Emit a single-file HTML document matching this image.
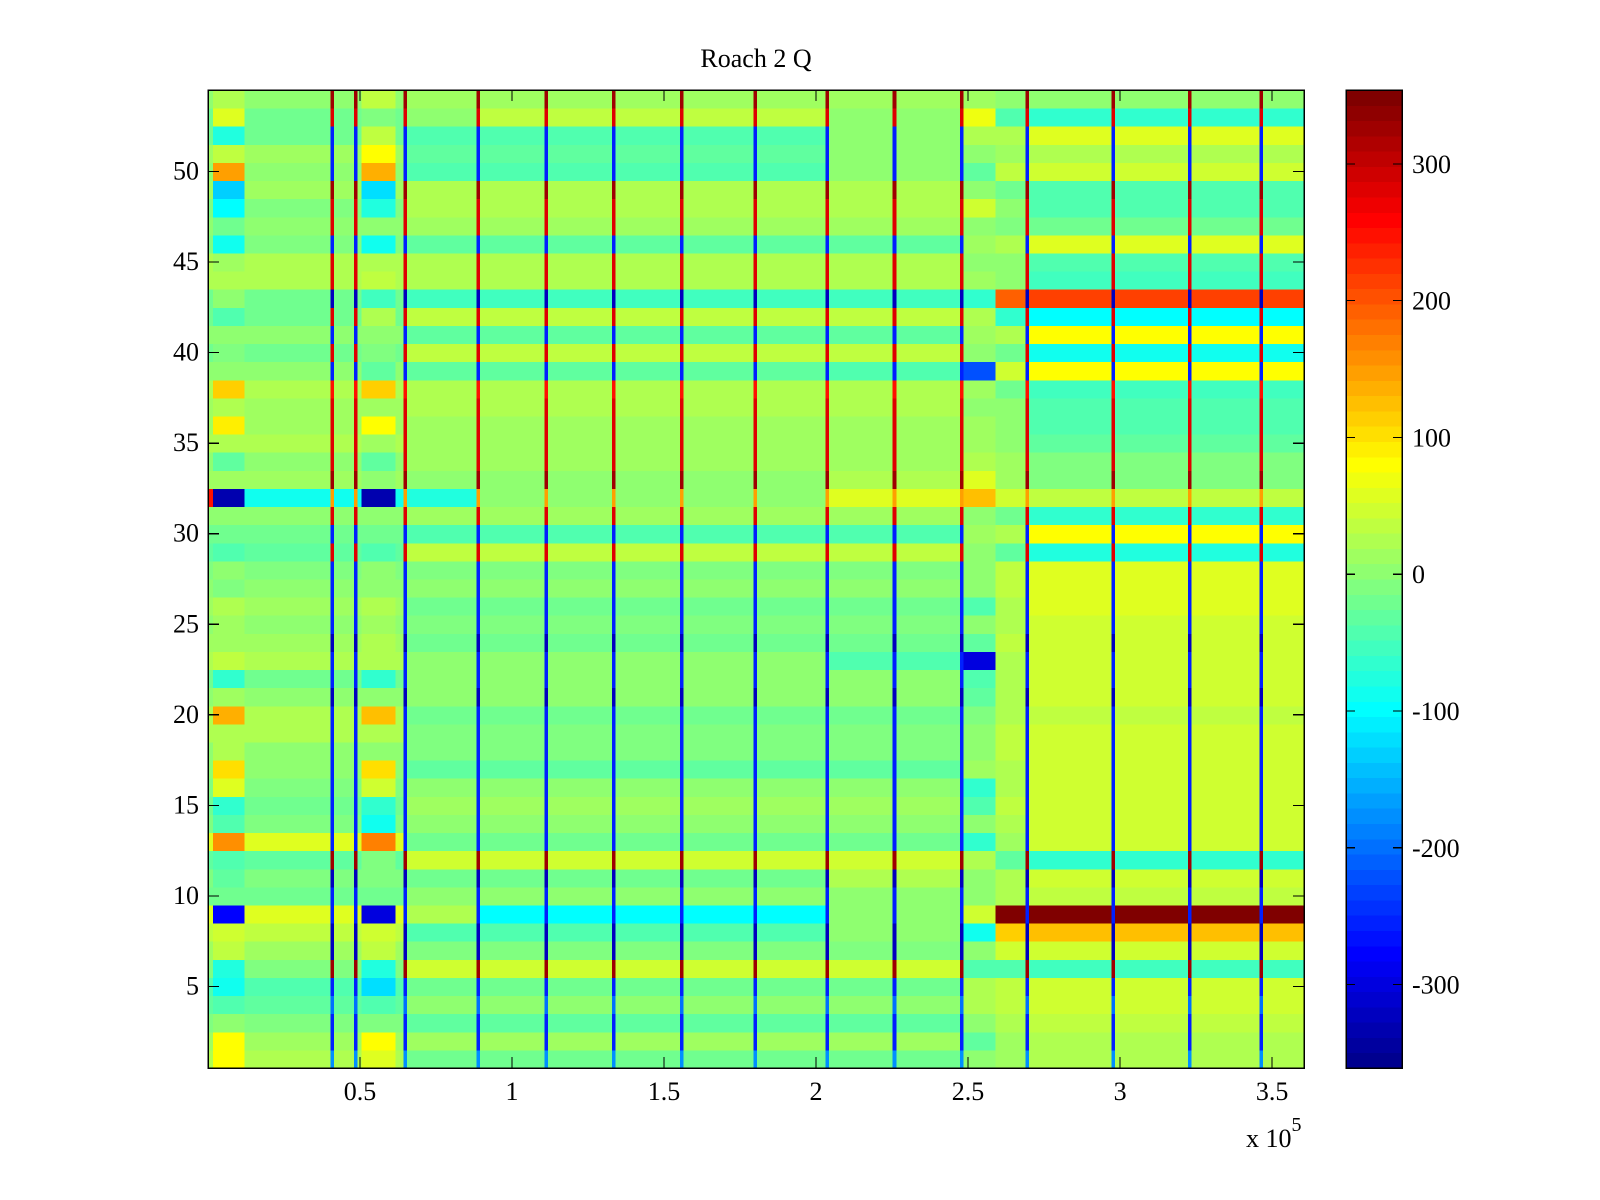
<!DOCTYPE html>
<html><head><meta charset="utf-8"><style>
html,body{margin:0;padding:0;background:#fff;}
svg{display:block;}
text{font-family:"Liberation Serif",serif;font-size:26px;fill:#000;}
</style></head><body>
<svg id="chart" width="1600" height="1200" viewBox="0 0 1600 1200" shape-rendering="crispEdges">
<rect x="0" y="0" width="1600" height="1200" fill="#fff"/>
<text x="756" y="67" text-anchor="middle">Roach 2 Q</text>
<g id="cells"></g>
<g id="lines"></g>
<rect x="208" y="90" width="1096" height="978" fill="none" stroke="#000" stroke-width="1.5"/>
<g id="axes"></g>
<g id="cbar"></g>
<text x="1246" y="1147">x 10<tspan dy="-16" font-size="20">5</tspan></text>
</svg>
<script>
// ---- data (rows 1..54) ----
const groupEdges = [0, 0.016, 0.12, 0.505, 0.616, 0.65, 0.889, 2.037, 2.479, 2.59, 2.695, 3.605];
const colA = [80,80,0,-40,-90,-80,40,50,-280,-20,-30,-40,160,-40,-70,60,100,20,30,140,10,-60,40,10,10,30,-10,0,-40,-20,0,-330,10,-30,30,90,30,110,0,-10,0,-40,0,30,10,-90,-20,-100,-130,150,40,-80,60,30];
const colB = [30,10,-10,-30,-40,-10,10,40,60,-20,-10,-30,60,-10,-20,-10,0,0,20,30,0,-20,20,10,0,10,0,-10,-30,-20,0,-90,10,0,30,10,10,20,0,-20,0,-20,-20,30,20,-10,0,-10,10,0,10,-20,-20,0];
const colEdge = [30,10,-10,-30,-40,-10,10,40,60,-20,-10,-30,60,-10,-20,-10,0,0,20,30,0,-20,20,10,0,10,0,-10,-30,-20,0,250,10,0,30,10,10,20,0,-20,0,-20,-20,30,20,-10,0,-10,10,0,10,-20,-20,0];
const colD = [60,80,-10,-40,-120,-80,40,50,-300,-20,-10,-10,170,-90,-70,50,100,0,30,130,0,-60,30,20,10,30,0,0,-40,-20,0,-330,0,-30,10,80,10,110,-30,-10,0,20,-50,40,20,-90,0,-80,-120,140,80,40,-10,40];
const colM1 = [-20,10,-30,0,-20,50,-10,-40,20,0,-20,50,-20,0,10,0,-30,-10,-10,-20,0,0,0,-20,-10,-20,0,-10,40,-40,15,-80,5,10,15,10,20,20,-30,35,-30,35,-50,25,20,-30,15,20,20,-40,-30,-40,0,10];
const colM2 = [-20,10,-30,0,-20,50,-10,-40,-100,0,-20,50,-20,0,10,0,-30,-10,-10,-20,0,0,0,-20,-10,-20,0,-10,40,-40,15,0,5,10,15,10,20,20,-30,35,-30,35,-50,25,20,-30,15,20,20,-40,-30,-40,40,10];
const colM3 = [-20,10,-30,0,-20,50,-10,0,0,0,20,50,-20,0,10,0,-30,-10,-10,-20,0,0,-40,-20,-10,-20,0,-10,40,-40,15,60,30,10,15,10,20,20,-40,35,-30,35,-50,25,20,-30,15,20,20,0,0,0,0,10];
const colF = [0,-30,0,20,20,-40,0,-90,50,0,0,30,-60,0,-40,-60,10,0,0,-10,-30,-40,-300,-30,0,-40,0,0,0,10,0,120,60,30,10,10,0,10,-220,0,10,30,-60,10,0,10,0,50,0,-30,0,30,70,10];
const colG = [10,10,25,35,40,-40,45,110,360,25,25,-30,10,25,35,25,25,35,35,25,25,25,25,35,25,25,35,40,-30,30,-20,50,10,10,0,0,0,-20,50,-20,30,-70,190,0,0,20,-10,0,-20,40,10,20,-40,0];
const colH = [20,30,40,50,50,-50,50,130,360,40,50,-60,45,50,45,50,50,45,45,40,45,45,50,50,50,55,55,60,-80,80,-70,40,-10,-10,-30,-40,-40,-50,80,-90,80,-100,210,-50,-40,60,-20,-40,-40,50,20,60,-70,0];
const lineX = [0.409,0.486,0.649,0.889,1.112,1.335,1.558,1.80,2.037,2.258,2.479,2.695,2.977,3.229,3.465];
const lineVals = [-180,-250,-250,-200,-250,330,-320,-320,-250,-250,-320,330,-250,-250,-250,-250,-250,-250,-250,-250,-320,-250,-250,-320,-250,-250,-250,-250,280,-250,280,150,330,280,280,280,280,250,-250,280,-250,280,-320,280,280,-250,280,280,330,-250,-250,-250,280,330];
const xTicks = [0.5,1,1.5,2,2.5,3,3.5];
const xTickLabels = ["0.5","1","1.5","2","2.5","3","3.5"];
const yTicks = [5,10,15,20,25,30,35,40,45,50];
const cTicks = [300,200,100,0,-100,-200,-300];
const clim = [-361, 354];
const groupCols = [colEdge, colA, colB, colD, colB, colM1, colM2, colM3, colF, colG, colH];

// ---- scales ----
const X0 = 208, X1 = 1304, Y0 = 90, Y1 = 1068, XMAX = 3.605, NROWS = 54;
function xs(v){ return X0 + v/XMAX*(X1-X0); }
function ys(r){ return Y1 - (r-0.5)/NROWS*(Y1-Y0); }
function jet(v){
  let i = Math.floor((v-clim[0])/(clim[1]-clim[0])*64);
  i = Math.max(0, Math.min(63, i));
  const t = (i+1)/64;
  const c = x => Math.round(255*Math.max(0, Math.min(1, 1.5-Math.abs(x))));
  return `rgb(${c(4*t-3)},${c(4*t-2)},${c(4*t-1)})`;
}
const NS = "http://www.w3.org/2000/svg";
function mk(tag, attrs, parent){
  const e = document.createElementNS(NS, tag);
  for (const k in attrs) e.setAttribute(k, attrs[k]);
  parent.appendChild(e); return e;
}
const cells = document.getElementById('cells');
for (let r = 1; r <= NROWS; r++){
  const yTop = ys(r+0.5), yBot = ys(r-0.5);
  for (let g = 0; g < groupCols.length; g++){
    const x0 = xs(groupEdges[g]), x1 = xs(groupEdges[g+1]);
    const el = mk('rect', {x:x0.toFixed(2), y:yTop.toFixed(2), width:(x1-x0+0.5).toFixed(2), height:(yBot-yTop+0.5).toFixed(2), fill:jet(groupCols[g][r-1])}, cells);
    
    
  }
}
const lines = document.getElementById('lines');
for (let k = 0; k < lineX.length; k++){
  for (let r = 1; r <= NROWS; r++){
    const yTop = ys(r+0.5), yBot = ys(r-0.5);
    const el = mk('rect', {x:(xs(lineX[k])-1.8).toFixed(2), y:yTop.toFixed(2), width:3.6, height:(yBot-yTop+0.5).toFixed(2), fill:jet(lineVals[r-1])}, lines);
    
    
  }
}
const axes = document.getElementById('axes');
xTicks.forEach((v,i)=>{
  const x = xs(v);
  const t1 = mk('line', {x1:x, y1:Y1, x2:x, y2:Y1-11, stroke:'#000', 'stroke-width':1.2}, axes);
  
  
  const t2 = mk('line', {x1:x, y1:Y0, x2:x, y2:Y0+11, stroke:'#000', 'stroke-width':1.2}, axes);
  
  
  const tx = mk('text', {x:x, y:1100, 'text-anchor':'middle'}, axes);
  tx.textContent = xTickLabels[i];
  
  
});
yTicks.forEach(v=>{
  const y = ys(v);
  const t1 = mk('line', {x1:X0, y1:y, x2:X0+11, y2:y, stroke:'#000', 'stroke-width':1.2}, axes);
  
  
  const t2 = mk('line', {x1:X1, y1:y, x2:X1-11, y2:y, stroke:'#000', 'stroke-width':1.2}, axes);
  
  
  const tx = mk('text', {x:199, y:y+8, 'text-anchor':'end'}, axes);
  tx.textContent = String(v);
  
  
});
// colorbar
const cb = document.getElementById('cbar');
const CX0 = 1346, CX1 = 1402;
function cy(v){ return Y1 - (v-clim[0])/(clim[1]-clim[0])*(Y1-Y0); }
for (let i = 0; i < 64; i++){
  const v0 = clim[0] + i*(clim[1]-clim[0])/64, v1 = clim[0] + (i+1)*(clim[1]-clim[0])/64;
  const el = mk('rect', {x:CX0, y:cy(v1).toFixed(2), width:CX1-CX0, height:(cy(v0)-cy(v1)+0.5).toFixed(2), fill:jet((v0+v1)/2)}, cb);
  
  
}
const cf = mk('rect', {x:CX0, y:Y0, width:CX1-CX0, height:Y1-Y0, fill:'none', stroke:'#000', 'stroke-width':1.5}, cb);


cTicks.forEach(v=>{
  const y = cy(v);
  const a = mk('line', {x1:CX0, y1:y, x2:CX0+9, y2:y, stroke:'#000', 'stroke-width':1.2}, cb);
  
  
  const b = mk('line', {x1:CX1, y1:y, x2:CX1-9, y2:y, stroke:'#000', 'stroke-width':1.2}, cb);
  
  
  const tx = mk('text', {x:1412, y:y+9}, cb);
  tx.textContent = String(v);
  
  
});
</script>
</body></html>
